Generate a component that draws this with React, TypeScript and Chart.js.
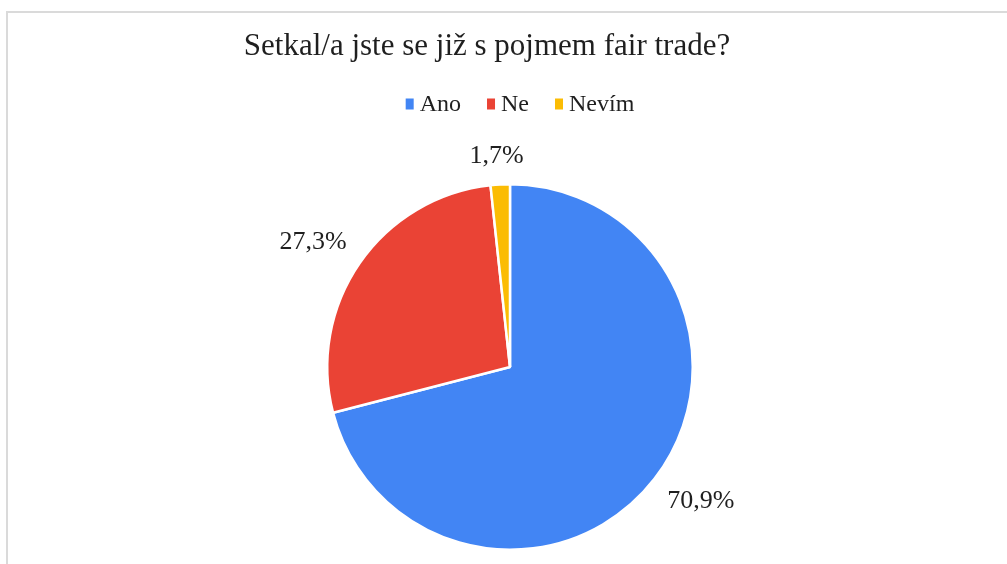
import React, { useEffect, useRef } from "react";
import { Chart, registerables } from "chart.js";

Chart.register(...registerables);

const TITLE = "Setkal/a jste se již s pojmem fair trade?";
const categories = ["Ano", "Ne", "Nevím"];
const values = [70.9, 27.3, 1.7];
const colors = ["#4285F4", "#EA4335", "#FBBC04"];

const FONT = '"Liberation Serif", "Times New Roman", serif';
const TEXT_COLOR = "#1f1f1f";

const fmt = (v: number) => v.toFixed(1).replace(".", ",") + "%";

const overlayPlugin = {
  id: "overlay",
  afterDraw(chart: any) {
    const ctx = chart.ctx as CanvasRenderingContext2D;
    ctx.save();
    ctx.fillStyle = TEXT_COLOR;
    ctx.textBaseline = "alphabetic";

    // Title
    ctx.font = `31px ${FONT}`;
    ctx.textAlign = "center";
    ctx.fillText(TITLE, 487, 55);

    // Legend
    ctx.font = `24px ${FONT}`;
    ctx.textAlign = "left";
    ctx.textBaseline = "middle";
    const boxW = 8;
    const boxH = 11;
    const gap = 6;
    const spacing = 26;
    const widths = categories.map((c) => ctx.measureText(c).width);
    const total =
      widths.reduce((a, b) => a + b, 0) +
      categories.length * (boxW + gap) +
      (categories.length - 1) * spacing;
    let x = 520 - total / 2;
    const ly = 104;
    categories.forEach((c, i) => {
      ctx.fillStyle = colors[i];
      ctx.fillRect(x, ly - boxH / 2, boxW, boxH);
      x += boxW + gap;
      ctx.fillStyle = TEXT_COLOR;
      ctx.fillText(c, x, ly + 1);
      x += widths[i] + spacing;
    });

    // Data labels
    ctx.font = `26px ${FONT}`;
    ctx.textAlign = "center";
    const meta = chart.getDatasetMeta(0);
    const clamp = (v: number) => Math.max(-1, Math.min(1, v));
    meta.data.forEach((arc: any, i: number) => {
      const mid = (arc.startAngle + arc.endAngle) / 2;
      const ux = Math.cos(mid);
      const uy = Math.sin(mid);
      const r = arc.outerRadius + 16;
      const ax = arc.x + ux * r;
      const ay = arc.y + uy * r;
      const label = fmt(values[i]);
      const w = ctx.measureText(label).width;
      const h = 24;
      const cx = ax + (w / 2) * clamp(2 * ux);
      const cy = ay + (h / 2) * clamp(2 * uy);
      ctx.fillText(label, cx, cy);
    });
    ctx.restore();
  },
};

export default function App() {
  const ref = useRef<HTMLCanvasElement | null>(null);

  useEffect(() => {
    if (!ref.current) return;
    const chart = new Chart(ref.current, {
      type: "pie",
      data: {
        labels: categories,
        datasets: [
          {
            data: values,
            backgroundColor: colors,
            borderColor: "#ffffff",
            borderWidth: 2.5,
          },
        ],
      },
      options: {
        responsive: false,
        animation: false,
        layout: { padding: { top: 183, bottom: 13, left: 13, right: 0 } },
        plugins: {
          legend: { display: false },
          title: { display: false },
          tooltip: { enabled: false },
        },
      },
      plugins: [overlayPlugin],
    });
    return () => chart.destroy();
  }, []);

  return (
    <div
      style={{
        position: "fixed",
        left: 0,
        top: 0,
        width: 1007,
        height: 564,
        overflow: "hidden",
        background: "#ffffff",
      }}
    >
      <div
        style={{
          position: "absolute",
          left: 6,
          top: 11,
          width: 1100,
          height: 700,
          border: "2px solid #dadada",
          boxSizing: "border-box",
        }}
      />
      <canvas
        ref={ref}
        width={1007}
        height={564}
        style={{ position: "absolute", left: 0, top: 0, width: 1007, height: 564 }}
      />
    </div>
  );
}
